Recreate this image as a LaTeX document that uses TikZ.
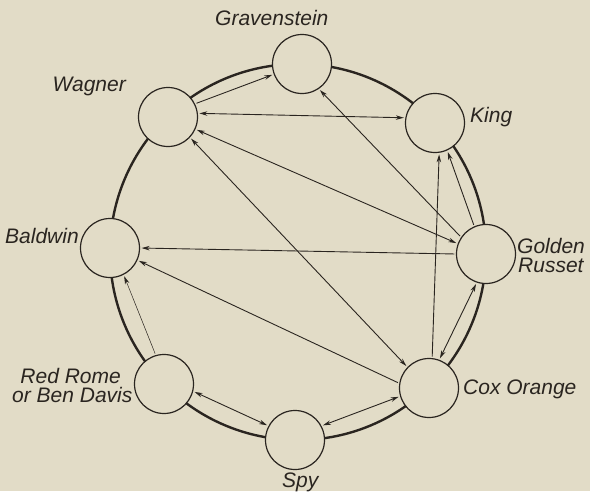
\documentclass[tikz,border=0pt]{standalone}
\usepackage{fontspec}
\setmainfont{Liberation Sans}
\usetikzlibrary{arrows.meta}
\definecolor{paper}{HTML}{E2DCC7}
\definecolor{ink}{HTML}{2A2520}
\begin{document}
\begin{tikzpicture}[x=1pt,y=-1pt,
  apple/.style={circle,draw=ink,fill=paper,line width=1.2pt,minimum size=59pt,inner sep=0pt},
  lbl/.style={text=ink,font=\fontsize{21}{22}\selectfont\itshape,inner sep=0pt},
  link/.style={draw=ink,line width=0.9pt,shorten <=1.5pt,shorten >=1.5pt},
  uni/.style={-{Stealth[length=8pt,width=4.5pt]}},
  bi/.style={{Stealth[length=8pt,width=4.5pt]}-{Stealth[length=8pt,width=4.5pt]}},
  ring/.style={draw=ink,line width=2.4pt}
]
\fill[paper] (0,0) rectangle (590,491);
\useasboundingbox (0,0) rectangle (590,491);
\draw[ring] (298,252) circle[radius=188pt];

\node[apple] (G)  at (302,64)  {};
\node[apple] (W)  at (168,117) {};
\node[apple] (K)  at (435,123) {};
\node[apple] (B)  at (110,248) {};
\node[apple] (gr) at (486,254) {};
\node[apple] (C)  at (429,388) {};
\node[apple] (rr) at (164,384) {};
\node[apple] (S)  at (295,440) {};

\draw[link,uni] (W.26) -- (G.200);
\draw[link,bi] (W.7) -- (K.170);
\draw[link,bi] (W.-24) -- (gr.160);
\draw[link,bi] (W.-43) -- (C.136);
\draw[link,uni] (gr.146) -- (G.-56);
\draw[link,uni] (C.84) -- (K.-82);
\draw[link,uni] (gr.113) -- (K.-66);
\draw[link,uni] (gr.180) -- (B.0);
\draw[link,uni] (C.171) -- (B.-24);
\draw[link,uni,line width=0.5pt] (rr.106) -- (B.-63);
\draw[link,bi] (gr.-108) -- (C.70);
\draw[link,bi] (rr.-14) -- (S.152);
\draw[link,bi] (S.28) -- (C.196);

\node[lbl,anchor=base west] (tG) at (215,25) {Gravenstein};
\node[lbl,anchor=base east] (tW) at (126,91) {Wagner};
\node[lbl,anchor=base west] (tK) at (470,122) {King};
\node[lbl,anchor=base west] (tB) at (5,243) {Baldwin};
\node[lbl,anchor=base west] (tgr1) at (517,253) {Golden};
\node[lbl,anchor=base west] (tgr2) at (518,272) {Russet};
\node[lbl,anchor=base west] (tC) at (463,394) {Cox Orange};
\node[lbl,anchor=base east] (trr1) at (121,383) {Red Rome};
\node[lbl,anchor=base west] (trr2) at (12,402) {or Ben Davis};
\node[lbl,anchor=base west] (tS) at (282,487) {Spy};
\end{tikzpicture}
\end{document}
